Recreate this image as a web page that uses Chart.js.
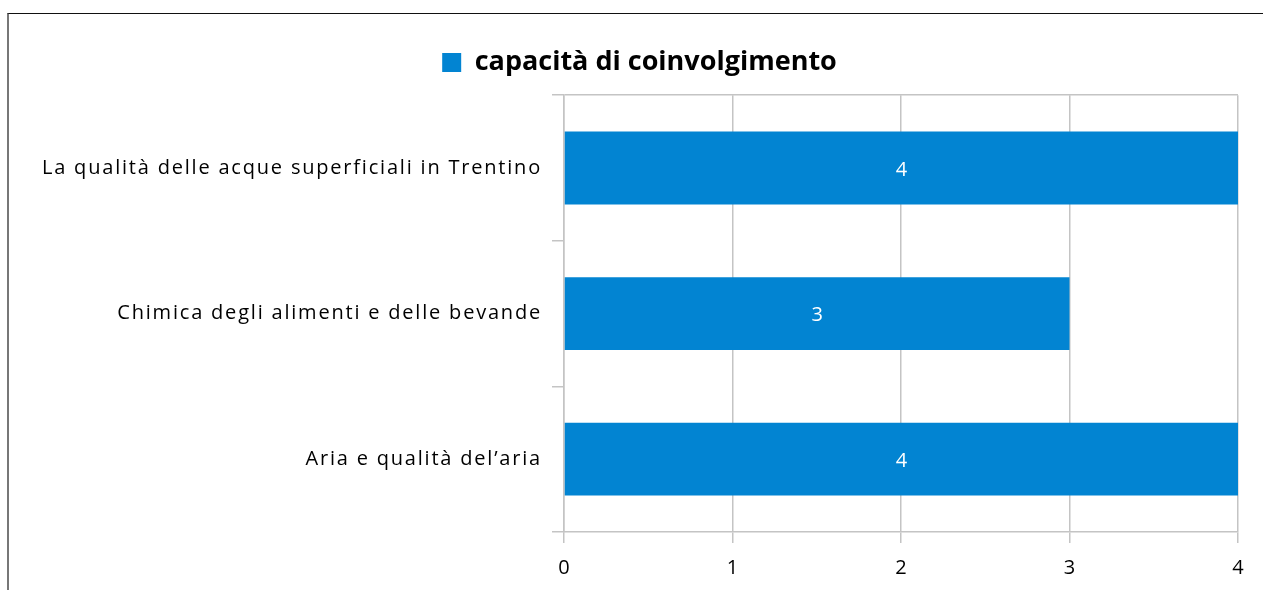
<!DOCTYPE html>
<html>
<head>
<meta charset="utf-8">
<script src="https://cdn.jsdelivr.net/npm/chart.js@4/dist/chart.umd.min.js"></script>
<style>
  html, body { margin: 0; padding: 0; background: #fff; }
  #wrap { position: relative; width: 1263px; height: 590px; overflow: hidden; }
  #frame { position: absolute; left: 7px; top: 13px; width: 1300px; height: 700px;
           border-top: 1px solid #111; border-left: 2px solid #777; }
  #chartBox { position: absolute; left: 0; top: 0; width: 1263px; height: 590px; }
</style>
</head>
<body>
<div id="wrap">
  <div id="frame"></div>
  <div id="chartBox"><canvas id="chart"></canvas></div>
</div>
<script>
  // === Data ===
  const categories = [
    'La qualità delle acque superficiali in Trentino',
    'Chimica degli alimenti e delle bevande',
    'Aria e qualità del’aria'
  ];
  const seriesName = 'capacità di coinvolgimento';
  const seriesValues = [4, 3, 4];
  const xTicks = [0, 1, 2, 3, 4];

  const BLUE = '#0284D2';
  const GRID = '#C4C4C4';
  const FONT = "'Open Sans', 'Noto Sans', sans-serif";

  // value labels centred in each bar
  const barLabels = {
    id: 'barLabels',
    afterDatasetsDraw(chart) {
      const ctx = chart.ctx;
      ctx.save();
      ctx.fillStyle = '#ffffff';
      ctx.font = '20px ' + FONT;
      ctx.textAlign = 'center';
      ctx.textBaseline = 'middle';
      chart.data.datasets.forEach((ds, i) => {
        chart.getDatasetMeta(i).data.forEach((bar, j) => {
          ctx.fillText(String(ds.data[j]), (bar.x + bar.base) / 2, bar.y + 2);
        });
      });
      ctx.restore();
    }
  };

  // the original category labels are loosely spaced
  const spacedLabels = {
    id: 'spacedLabels',
    afterLayout(chart) {
      const y = chart.scales.y;
      if (!y || y._spaced) return;
      const orig = y.drawLabels.bind(y);
      y.drawLabels = function (area) {
        const ctx = chart.ctx;
        ctx.save();
        ctx.letterSpacing = '1.8px';
        orig(area);
        ctx.restore();
      };
      y._spaced = true;
    }
  };

  new Chart(document.getElementById('chart'), {
    type: 'bar',
    data: {
      labels: categories,
      datasets: [{
        label: seriesName,
        data: seriesValues,
        backgroundColor: BLUE,
        borderWidth: 0,
        barPercentage: 1,
        categoryPercentage: 0.5
      }]
    },
    options: {
      indexAxis: 'y',
      responsive: true,
      maintainAspectRatio: false,
      animation: false,
      layout: { padding: { top: 25, right: 25, left: 41, bottom: 0 } },
      plugins: {
        tooltip: { enabled: false },
        // empty title used only as a gap between legend and plot
        title: {
          display: true,
          text: ' ',
          weight: 500,
          font: { size: 1 },
          padding: { top: 0, bottom: 8 }
        },
        legend: {
          position: 'top',
          labels: {
            boxWidth: 19,
            boxHeight: 19,
            color: '#000',
            padding: 24,
            font: { size: 27, weight: 'bold', family: FONT }
          }
        }
      },
      scales: {
        x: {
          min: 0,
          max: 4,
          afterBuildTicks(scale) {
            scale.ticks = xTicks.map(v => ({ value: v }));
          },
          afterFit(scale) { scale.height = 58; },
          grid: {
            color: GRID,
            tickColor: GRID,
            tickLength: 11,
            lineWidth: 1.5
          },
          border: { color: GRID, width: 1.5 },
          ticks: {
            color: '#000',
            padding: 13,
            font: { size: 20, family: FONT }
          }
        },
        y: {
          afterFit(scale) { scale.width = 523; },
          grid: {
            offset: true,
            color: c => c.index === 0 ? GRID : 'transparent',
            tickColor: GRID,
            tickLength: 12,
            lineWidth: 1.5
          },
          border: { color: GRID, width: 1.5 },
          ticks: {
            color: '#000',
            padding: 10,
            font: { size: 20, family: FONT }
          }
        }
      }
    },
    plugins: [barLabels, spacedLabels]
  });
</script>
</body>
</html>
